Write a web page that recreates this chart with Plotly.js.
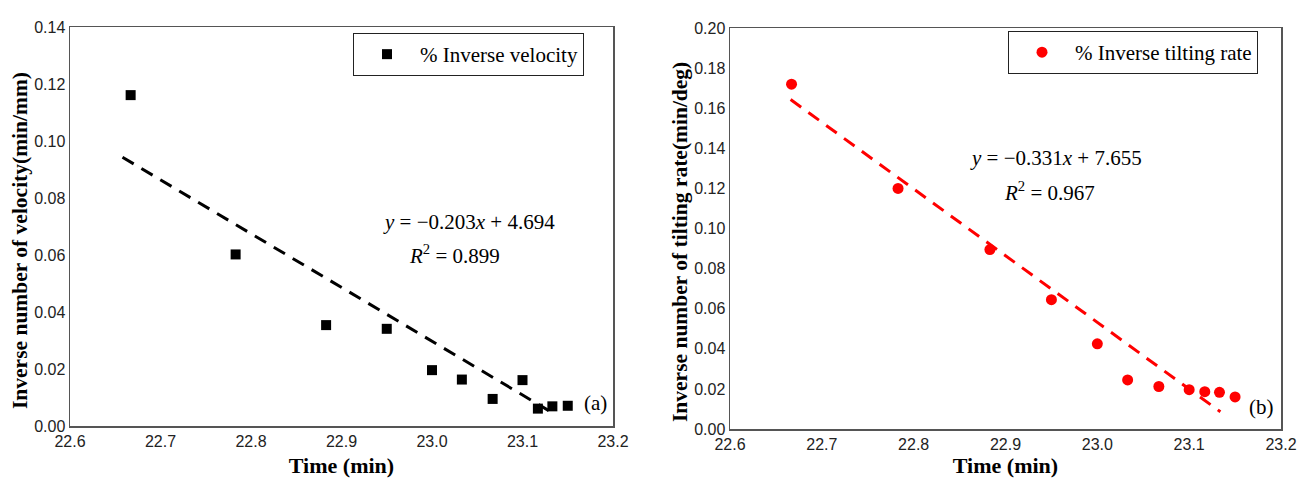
<!DOCTYPE html>
<html>
<head>
<meta charset="utf-8">
<script src="https://cdn.plot.ly/plotly-3.0.1.min.js"></script>
<style>html,body{margin:0;padding:0;background:#fff;}#chart{width:1309px;height:478px;}</style>
</head>
<body>
<div id="chart"></div>
<script>
// ---- data ----
const timeMin = [22.667, 22.783, 22.883, 22.950, 23.000, 23.033, 23.067, 23.100, 23.117, 23.133, 23.150];
const inverseVelocity = [0.1161, 0.0602, 0.0354, 0.0341, 0.0196, 0.0163, 0.0095, 0.0161, 0.0061, 0.0069, 0.0071];
const inverseTilting = [0.1720, 0.1200, 0.0895, 0.0645, 0.0425, 0.0245, 0.0212, 0.0196, 0.0186, 0.0183, 0.0160];
const fitVelocityX = [22.658, 23.129];
const fitVelocityY = [0.0943, 0.0054];
const fitTiltingX = [22.666, 23.134];
const fitTiltingY = [0.1643, 0.0086];
const xTicks = [22.6, 22.7, 22.8, 22.9, 23.0, 23.1, 23.2];
const yTicksA = [0, 0.02, 0.04, 0.06, 0.08, 0.10, 0.12, 0.14];
const yTicksB = [0, 0.02, 0.04, 0.06, 0.08, 0.10, 0.12, 0.14, 0.16, 0.18, 0.20];
const legendA = '% Inverse velocity';
const legendB = '% Inverse tilting rate';
const eqA = '<i>y</i> = \u22120.203<i>x</i> + 4.694';
const r2A = '<i>R</i><sup>2</sup> = 0.899';
const eqB = '<i>y</i> = \u22120.331<i>x</i> + 7.655';
const r2B = '<i>R</i><sup>2</sup> = 0.967';
const xTitle = 'Time (min)';
const yTitleA = 'Inverse number of velocity(min/mm)';
const yTitleB = 'Inverse number of tilting rate(min/deg)';

const W = 1309, H = 478;
const SERIF = '"Liberation Serif", "Times New Roman", serif';
const SANS = '"Liberation Sans", Arial, sans-serif';

const traces = [
  {x: timeMin, y: inverseVelocity, type: 'scatter', mode: 'markers', name: legendA,
   marker: {symbol: 'square', size: 10, color: '#000'}, xaxis: 'x', yaxis: 'y', legend: 'legend'},
  {x: fitVelocityX, y: fitVelocityY, type: 'scatter', mode: 'lines', showlegend: false,
   line: {color: '#000', width: 3, dash: '13px,9px'}, xaxis: 'x', yaxis: 'y', hoverinfo: 'skip'},
  {x: timeMin, y: inverseTilting, type: 'scatter', mode: 'markers', name: legendB,
   marker: {symbol: 'circle', size: 11, color: '#ff0000'}, xaxis: 'x2', yaxis: 'y2', legend: 'legend2'},
  {x: fitTiltingX, y: fitTiltingY, type: 'scatter', mode: 'lines', showlegend: false,
   line: {color: '#ff0000', width: 3, dash: '13px,9px'}, xaxis: 'x2', yaxis: 'y2', hoverinfo: 'skip'}
];

function xAxis(domain, anchor) {
  return {
    domain: domain, anchor: anchor, range: [22.6, 23.2], tickvals: xTicks, tickformat: '.1f',
    showgrid: false, zeroline: false, showline: true, mirror: true, linecolor: '#555', linewidth: 1.5,
    ticks: '', tickfont: {family: SANS, size: 16, color: '#222'},
    title: {text: '<b>' + xTitle + '</b>', font: {family: SERIF, size: 22, color: '#000'}, standoff: 12}
  };
}
function yAxis(domain, anchor, range, ticks) {
  return {
    domain: domain, anchor: anchor, range: range, tickvals: ticks, tickformat: '.2f',
    showgrid: false, zeroline: false, showline: true, mirror: true, linecolor: '#555', linewidth: 1.5,
    ticks: '', tickfont: {family: SANS, size: 16, color: '#222'}
  };
}

const ann = (x, y, text, size, extra) => Object.assign({
  xref: 'paper', yref: 'paper', x: x / W, y: 1 - y / H, text: text, showarrow: false,
  xanchor: 'left', yanchor: 'middle', font: {family: SERIF, size: size, color: '#000'}
}, extra || {});

const layout = {
  width: W, height: H,
  margin: {l: 0, r: 0, t: 0, b: 0},
  paper_bgcolor: '#fff', plot_bgcolor: '#fff',
  showlegend: true,
  xaxis: xAxis([70 / W, 613 / W], 'y'),
  yaxis: yAxis([1 - 426 / H, 1 - 27 / H], 'x', [0, 0.14], yTicksA),
  xaxis2: xAxis([730 / W, 1281 / W], 'y2'),
  yaxis2: yAxis([1 - 429 / H, 1 - 28 / H], 'x2', [0, 0.20], yTicksB),
  legend: {x: 353 / W, y: 1 - 33 / H, xanchor: 'left', yanchor: 'top', bgcolor: '#fff',
           bordercolor: '#222', borderwidth: 1, itemwidth: 56,
           font: {family: SERIF, size: 21, color: '#000'}},
  legend2: {x: 1008 / W, y: 1 - 31 / H, xanchor: 'left', yanchor: 'top', bgcolor: '#fff',
            bordercolor: '#222', borderwidth: 1, itemwidth: 56,
            font: {family: SERIF, size: 21, color: '#000'}},
  annotations: [
    ann(20, 241, '<b>' + yTitleA + '</b>', 21.5, {textangle: -90, xanchor: 'center'}),
    ann(680, 242, '<b>' + yTitleB + '</b>', 21.5, {textangle: -90, xanchor: 'center'}),
    ann(381, 222, eqA, 21),
    ann(407, 254, r2A, 21),
    ann(582, 403, '(a)', 21),
    ann(968, 158, eqB, 21),
    ann(1002, 192, r2B, 21),
    ann(1247, 407, '(b)', 21)
  ]
};

Plotly.newPlot('chart', traces, layout, {displayModeBar: false, staticPlot: true});
</script>
</body>
</html>
